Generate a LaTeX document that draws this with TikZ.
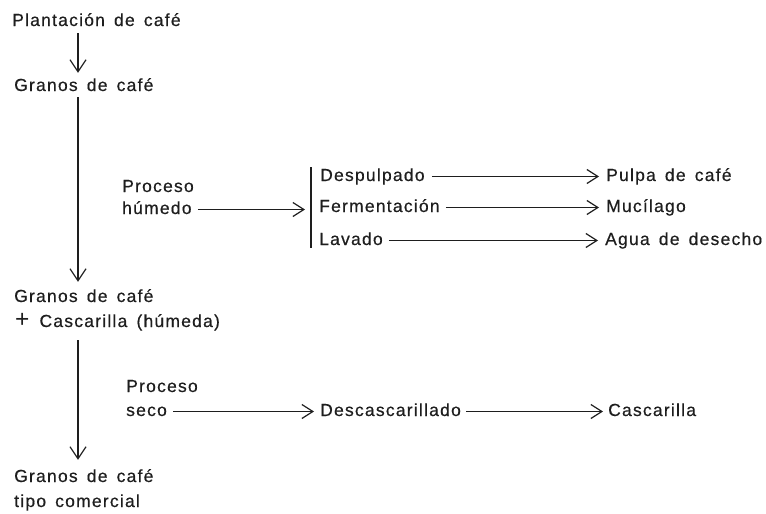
\documentclass[tikz,border=0pt]{standalone}
\usepackage{fontspec}
\setmainfont{Liberation Sans}[LetterSpace=7,WordSpace=1.5,FakeBold=0.5]
\newfontfamily\plainfont{Liberation Sans}
\usetikzlibrary{arrows.meta}
\definecolor{ink}{HTML}{1E1E1E}
\begin{document}
\begin{tikzpicture}[x=1pt,y=-1pt,
  lbl/.style={anchor=base west, inner sep=0pt, text height=12pt, text depth=3pt,
              font=\fontsize{17.5}{20}\selectfont, text=ink},
  line/.style={draw=ink, line width=1.2pt},
  harr/.style={line, -{Straight Barb[length=11pt,width=14pt]}},
  varr/.style={line, -{Straight Barb[length=12pt,width=16pt]}}]
\useasboundingbox (0,0) rectangle (766,514);

% left column
\node[lbl] (plant) at (12,26) {Plantación de café};
\node[lbl] (gran1) at (14,91) {Granos de café};
\node[lbl] (gran2) at (14,302) {Granos de café};
\node[lbl] (casc) at (14,327) {\hspace{1pt}{\plainfont\scalebox{1.4}{+}}\hspace{10pt}Cascarilla (húmeda)};
\node[lbl] (gran3) at (14,482) {Granos de café};
\node[lbl] (tipo) at (14,507) {tipo comercial};

% wet process
\node[lbl] (proc1) at (122,192) {Proceso};
\node[lbl] (hum) at (122,214) {húmedo};
\node[lbl] (desp) at (320,181) {Despulpado};
\node[lbl] (ferm) at (319,212) {Fermentación};
\node[lbl] (lav) at (319,245) {Lavado};
\node[lbl] (pulpa) at (606,181) {Pulpa de café};
\node[lbl] (muci) at (606,212) {Mucílago};
\node[lbl] (agua) at (605,245) {Agua de desecho};

% dry process
\node[lbl] (proc2) at (126,392) {Proceso};
\node[lbl] (seco) at (126,416) {seco};
\node[lbl] (desc) at (320,416) {Descascarillado};
\node[lbl] (casc2) at (608,416) {Cascarilla};

% vertical arrows
\coordinate (ax) at (78,0);
\draw[varr, shorten <=4pt, shorten >=6pt] (plant.south -| ax) -- (gran1.north -| ax);
\draw[varr, shorten <=3pt, shorten >=8pt] (gran1.south -| ax) -- (gran2.north -| ax);
\draw[varr, shorten <=10pt, shorten >=10pt] (casc.south -| ax) -- (gran3.north -| ax);

% bracket bar
\coordinate (bt) at (311,167);
\coordinate (bb) at (311,248);
\draw[line] (bt) -- (bb);

% horizontal arrows
\draw[harr] ([xshift=6pt]hum.east) -- ([xshift=-6pt]hum.east -| bt);
\draw[harr] ([xshift=7pt]desp.east) -- ([xshift=-7pt]pulpa.west);
\draw[harr] ([xshift=6pt]ferm.east) -- ([xshift=-7pt]muci.west);
\draw[harr] ([xshift=6pt]lav.east) -- ([xshift=-7pt]agua.west);
\draw[harr] ([xshift=6pt]seco.east) -- ([xshift=-6pt]desc.west);
\draw[harr] ([xshift=5pt]desc.east) -- ([xshift=-5pt]casc2.west);
\end{tikzpicture}
\end{document}
